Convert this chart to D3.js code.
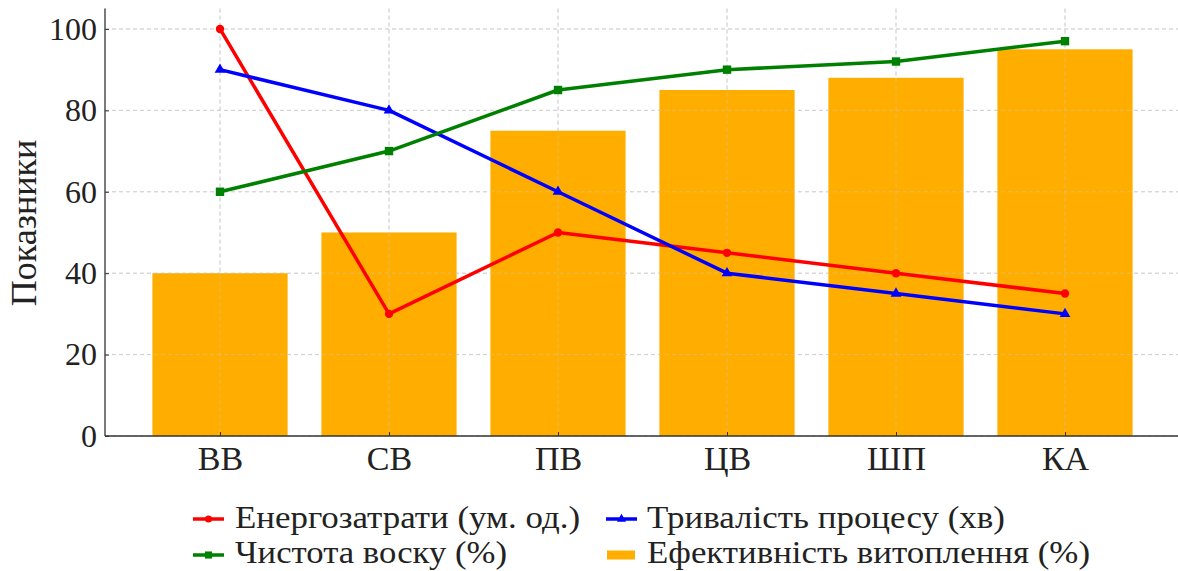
<!DOCTYPE html>
<html><head><meta charset="utf-8">
<script src="https://cdn.jsdelivr.net/npm/d3@7"></script>
<style>body{margin:0;background:#fff}svg{display:block} text{font-family:"Liberation Serif","DejaVu Serif",serif}</style>
</head><body>
<script>
const categories = ["ВВ","СВ","ПВ","ЦВ","ШП","КА"];
const energy = [100, 30, 50, 45, 40, 35];
const duration = [90, 80, 60, 40, 35, 30];
const purity = [60, 70, 85, 90, 92, 97];
const efficiency = [40, 50, 75, 85, 88, 95];
const yTicks = [0, 20, 40, 60, 80, 100];
const seriesNames = ["Енергозатрати (ум. од.)", "Тривалість процесу (хв)", "Чистота воску (%)", "Ефективність витоплення (%)"];

(function(){
const W = 1178, H = 571;
const pLeft = 105, pBottom = 436, pTop = 8.6, pRight = 1180;

const svg = d3.select("body").append("svg").attr("width", W).attr("height", H);

const x = d3.scalePoint().domain(categories).range([220, 1065]);
const step = x.step();
const y = d3.scaleLinear().domain([0, 105]).range([pBottom, pTop]);

const g = svg.append("g");
g.selectAll(".hg").data(yTicks).join("line")
  .attr("x1", pLeft).attr("x2", pRight).attr("y1", d => y(d)).attr("y2", d => y(d))
  .attr("stroke", "#cccccc").attr("stroke-width", 0.8).attr("stroke-dasharray", "4,3");
g.selectAll(".vg").data(categories).join("line")
  .attr("x1", d => x(d)).attr("x2", d => x(d)).attr("y1", pTop).attr("y2", pBottom)
  .attr("stroke", "#cccccc").attr("stroke-width", 0.8).attr("stroke-dasharray", "4,3");

const barColor = "#ffae00";
svg.append("g").selectAll("rect").data(efficiency).join("rect")
  .attr("x", (d, i) => x(categories[i]) - step * 0.4)
  .attr("width", step * 0.8)
  .attr("y", d => y(d))
  .attr("height", d => pBottom - y(d))
  .attr("fill", barColor);

svg.append("g").selectAll("line").data(categories).join("line")
  .attr("x1", d => x(d)).attr("x2", d => x(d)).attr("y1", pTop).attr("y2", pBottom)
  .attr("stroke", "#c8c8c8").attr("stroke-opacity", 0.6).attr("stroke-width", 0.8).attr("stroke-dasharray", "4,3");
svg.append("g").selectAll("line").data(yTicks.slice(1)).join("line")
  .attr("x1", pLeft).attr("x2", pRight).attr("y1", d => y(d)).attr("y2", d => y(d))
  .attr("stroke", "#c8c8c8").attr("stroke-opacity", 0.6).attr("stroke-width", 0.8).attr("stroke-dasharray", "4,3");

const lineGen = d3.line().x((d, i) => x(categories[i])).y(d => y(d));
const series = [
  {vals: energy, color: "#ff0000", marker: "circle"},
  {vals: duration, color: "#0000ff", marker: "triangle"},
  {vals: purity, color: "#008000", marker: "square"}
];
function drawMarker(sel, type, color, s) {
  s = s || 1;
  if (type === "circle") sel.append("circle").attr("r", 4.2 * s).attr("fill", color);
  else if (type === "square") sel.append("rect").attr("x", -4.2 * s).attr("y", -4.2 * s).attr("width", 8.4 * s).attr("height", 8.4 * s).attr("fill", color);
  else sel.append("path").attr("d", d3.symbol().type(d3.symbolTriangle).size(50 * s * s)()).attr("fill", color);
}
series.forEach(s => {
  svg.append("path").datum(s.vals).attr("d", lineGen)
    .attr("fill", "none").attr("stroke", s.color).attr("stroke-width", 3.5).attr("stroke-linejoin", "round");
  s.vals.forEach((v, i) => {
    const m = svg.append("g").attr("transform", `translate(${x(categories[i])},${y(v)})`);
    drawMarker(m, s.marker, s.color);
  });
});

const axisColor = "#333";
svg.append("line").attr("x1", pLeft).attr("x2", pLeft).attr("y1", pTop).attr("y2", pBottom)
  .attr("stroke", axisColor).attr("stroke-width", 1.3);
svg.append("line").attr("x1", pLeft).attr("x2", pRight).attr("y1", pBottom).attr("y2", pBottom)
  .attr("stroke", axisColor).attr("stroke-width", 1.3);

const yAxis = svg.append("g").attr("transform", `translate(${pLeft},0)`)
  .call(d3.axisLeft(y).tickValues(yTicks).tickSize(-4).tickPadding(8));
yAxis.attr("font-family", null);
yAxis.select(".domain").remove();
yAxis.selectAll("line").attr("stroke", axisColor);
yAxis.selectAll("text").attr("font-size", 32).attr("fill", "#222");

const xAxis = svg.append("g").attr("transform", `translate(0,${pBottom})`)
  .call(d3.axisBottom(x).tickSize(-4).tickPadding(10));
xAxis.attr("font-family", null);
xAxis.select(".domain").remove();
xAxis.selectAll("line").attr("stroke", axisColor);
xAxis.selectAll("text").attr("font-size", 34).attr("fill", "#222").attr("dy", "0.72em");

svg.append("text").attr("transform", "translate(36,223) rotate(-90)")
  .attr("text-anchor", "middle").attr("font-size", 36).attr("fill", "#222")
  .text("Показники");

const legendItems = [
  {name: seriesNames[0], color: "#ff0000", marker: "circle", lx: 193, tx: 235, ly: 519, ty: 517, tw: 345},
  {name: seriesNames[1], color: "#0000ff", marker: "triangle", lx: 606, tx: 647, ly: 519, ty: 517, tw: 358},
  {name: seriesNames[2], color: "#008000", marker: "square", lx: 193, tx: 235, ly: 555, ty: 552, tw: 272},
  {name: seriesNames[3], color: barColor, marker: "bar", lx: 606, tx: 647, ly: 555, ty: 552, tw: 443}
];
legendItems.forEach(it => {
  const lg = svg.append("g").attr("transform", `translate(${it.lx},${it.ly})`);
  if (it.marker === "bar") {
    lg.append("rect").attr("x", 1).attr("y", -4.5).attr("width", 28).attr("height", 9).attr("fill", it.color);
  } else {
    lg.append("line").attr("x1", 0).attr("x2", 31).attr("stroke", it.color).attr("stroke-width", 3.5);
    const m = lg.append("g").attr("transform", "translate(15.5,0)");
    drawMarker(m, it.marker, it.color, 0.85);
  }
  svg.append("text").attr("x", it.tx).attr("y", it.ty).attr("dy", "0.35em")
    .attr("font-size", 31.5).attr("fill", "#222")
    .attr("textLength", it.tw).attr("lengthAdjust", "spacingAndGlyphs")
    .text(it.name);
});
})();
</script>
</body></html>
